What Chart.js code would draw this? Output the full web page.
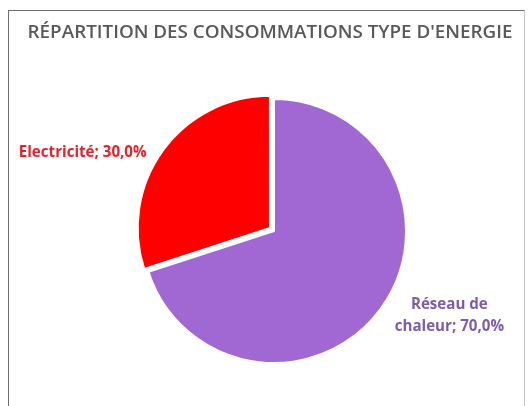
<!DOCTYPE html>
<html>
<head>
<meta charset="utf-8">
<script src="https://cdn.jsdelivr.net/npm/chart.js@4/dist/chart.umd.min.js"></script>
<style>
  html, body { margin: 0; padding: 0; background: #fff; }
  #wrap { position: relative; width: 528px; height: 406px; overflow: hidden; }
  #frame { position: absolute; left: 8px; top: 10px; width: 517px; height: 400px;
           border: 1px solid #6e6e6e; border-right-color: #c8c8c8; box-sizing: border-box; }
  canvas { position: absolute; left: 0; top: 0; }
</style>
</head>
<body>
<div id="wrap">
  <div id="frame"></div>
  <canvas id="pie" width="528" height="406"></canvas>
</div>
<script>
// chart data
var titleText   = "RÉPARTITION DES CONSOMMATIONS TYPE D'ENERGIE";
var categories  = ["Réseau de chaleur", "Electricité"];
var labelLines  = [["Réseau de", "chaleur"], ["Electricité"]];
var values      = [70, 30];
var sliceColors = ["#A168D3", "#FF0000"];
var textColors  = ["#7C5CAE", "#E8202C"];

function pct(i) {
  var total = values.reduce(function(a, b) { return a + b; }, 0);
  return (values[i] / total * 100).toFixed(1).replace(".", ",") + "%";
}

// pick a font size so a string fills a given width
function fitSize(text, weight, family, targetWidth) {
  var c = document.createElement("canvas").getContext("2d");
  c.font = weight + " 20px " + family;
  return 20 * targetWidth / c.measureText(text).width;
}

var FAMILY = "'Open Sans', sans-serif";
var titleSize = fitSize(titleText, 600, FAMILY, 485);
var labelSize = fitSize("Electricité; 30,0%", 700, FAMILY, 128);

var sliceLabels = {
  id: "sliceLabels",
  afterDraw: function(chart) {
    var ctx = chart.ctx;
    var meta = chart.getDatasetMeta(0);
    // title
    ctx.save();
    ctx.font = "600 " + titleSize + "px " + FAMILY;
    ctx.fillStyle = "#595959";
    ctx.textAlign = "center";
    ctx.textBaseline = "middle";
    ctx.fillText(titleText, 270, 33);

    ctx.font = "700 " + labelSize + "px " + FAMILY;
    var shifts = [{ dx: 54, dy: -3 }, { dx: -6, dy: 10 }];
    meta.data.forEach(function(arc, i) {
      var p = arc.getProps(["x", "y", "startAngle", "endAngle", "outerRadius"], true);
      var mid = (p.startAngle + p.endAngle) / 2;
      var r = p.outerRadius + 18;
      var ax = p.x + Math.cos(mid) * r + shifts[i].dx;
      var ay = p.y + Math.sin(mid) * r + shifts[i].dy;
      var lines = labelLines[i].slice();
      lines[lines.length - 1] += "; " + pct(i);
      var lh = 22;
      ctx.fillStyle = textColors[i];
      ctx.textAlign = Math.cos(mid) < 0 ? "right" : "center";
      lines.forEach(function(line, k) {
        ctx.fillText(line, ax, ay + (k - (lines.length - 1) / 2) * lh);
      });
    });
    ctx.restore();
  }
};

new Chart(document.getElementById("pie"), {
  type: "pie",
  data: {
    labels: categories,
    datasets: [{
      data: values,
      backgroundColor: sliceColors,
      borderColor: "#ffffff",
      borderWidth: 2,
      offset: [0, 20],
      radius: 132
    }]
  },
  options: {
    responsive: false,
    animation: false,
    layout: { padding: { left: 30, right: 10, top: 70, bottom: 14 } },
    plugins: {
      legend: { display: false },
      tooltip: { enabled: false },
      title: { display: false }
    }
  },
  plugins: [sliceLabels]
});
</script>
</body>
</html>
